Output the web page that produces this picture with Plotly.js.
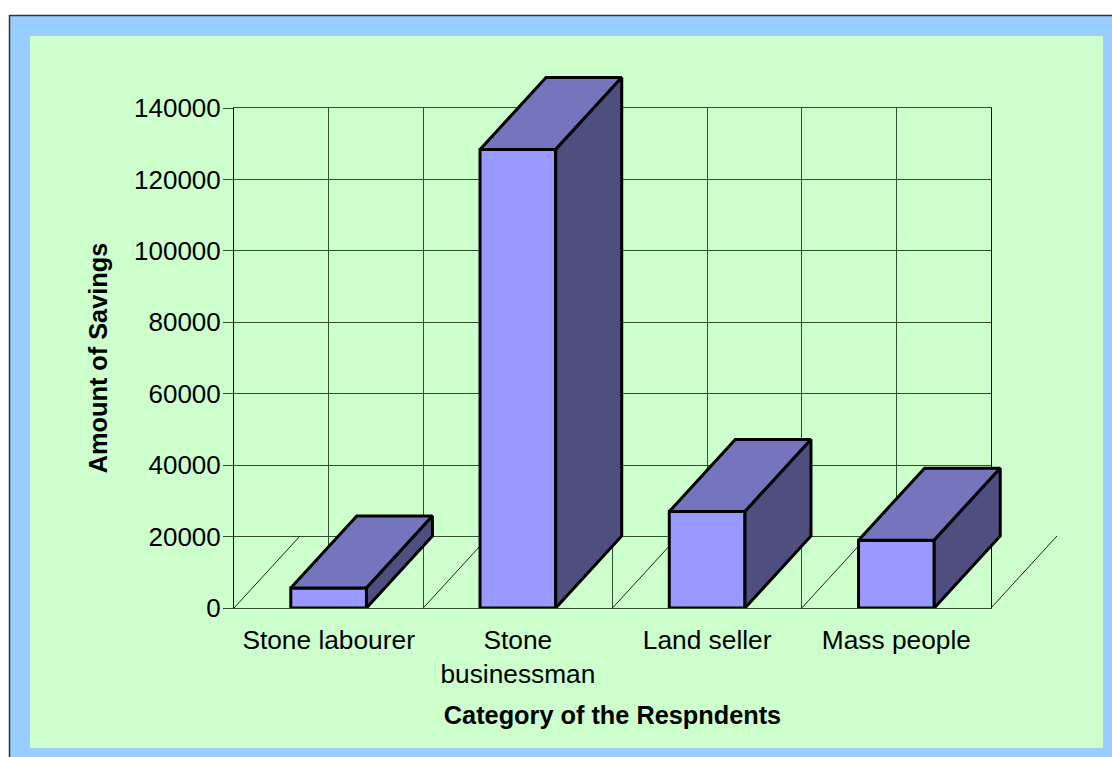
<!DOCTYPE html>
<html>
<head>
<meta charset="utf-8">
<script src="https://cdn.plot.ly/plotly-3.0.0.min.js"></script>
<style>html,body{margin:0;padding:0;background:#fff;overflow:hidden}#chart{width:1112px;height:757px}</style>
</head>
<body>
<div id="chart"></div>
<script>
const categories = ["Stone labourer", "Stone<br>businessman", "Land seller", "Mass people"];
const savings = [5600, 128400, 27000, 19000];
const yTicks = [0, 20000, 40000, 60000, 80000, 100000, 120000, 140000];
const xTitle = "Category of the Respndents";
const yTitle = "Amount of Savings";

const W = 1112, H = 757;
const axisBox = {l: 234, r: 991, t: 108, b: 608};   // the value axes
const outerBox = {l: 234, r: 1064, t: 66, b: 608};  // room for the 3D depth
const xRange = [0.5, 4.5], yRange = [0, 140000];
const xPerPx = (xRange[1] - xRange[0]) / (axisBox.r - axisBox.l);
const yPerPx = (yRange[1] - yRange[0]) / (axisBox.b - axisBox.t);
const xRange2 = [xRange[0], xRange[0] + (outerBox.r - outerBox.l) * xPerPx];
const yRange2 = [yRange[0], yRange[0] + (outerBox.b - outerBox.t) * yPerPx];
const depthX = 66 * xPerPx;
const depthY = 72 * yPerPx;
const halfBar = 0.2;
const font = "Liberation Sans, Arial, sans-serif";
const gridColor = "#2f4f2f";

const px = v => (v - outerBox.l) / (outerBox.r - outerBox.l);
const py = v => (outerBox.b - v) / (outerBox.b - outerBox.t);

const traces = [];
// empty trace so the primary axes exist
traces.push({x: [1], y: [0], mode: "markers", marker: {opacity: 0}, xaxis: "x", yaxis: "y",
  hoverinfo: "skip", showlegend: false});
// floor diagonals
for (let i = 0; i <= categories.length; i++) {
  const x0 = xRange[0] + i;
  traces.push({x: [x0, x0 + depthX], y: [0, depthY], mode: "lines", xaxis: "x2", yaxis: "y2",
    line: {color: "#222", width: 1}, hoverinfo: "skip", showlegend: false});
}
function face(xs, ys, color) {
  traces.push({x: xs, y: ys, mode: "lines", fill: "toself", fillcolor: color, xaxis: "x2", yaxis: "y2",
    line: {color: "#000", width: 3}, hoverinfo: "skip", showlegend: false});
}
savings.forEach((v, i) => {
  const c = i + 1, a = c - halfBar, b = c + halfBar;
  face([a, b, b, a, a], [0, 0, v, v, 0], "#9999FF");
  face([a, b, b + depthX, a + depthX, a], [v, v, v + depthY, v + depthY, v], "#7575BD");
  face([b, b + depthX, b + depthX, b, b], [0, depthY, v + depthY, v, 0], "#4E4E7F");
});

const xTickVals = [], xTickText = [];
categories.forEach((name, i) => {
  xTickVals.push(i + 0.5, i + 1);
  xTickText.push("", name);
});
xTickVals.push(categories.length + 0.5);
xTickText.push("");

const hidden = {visible: false, fixedrange: true};
const layout = {
  width: W, height: H,
  margin: {l: outerBox.l, r: W - outerBox.r, t: outerBox.t, b: H - outerBox.b, pad: 0},
  paper_bgcolor: "#fff", plot_bgcolor: "rgba(0,0,0,0)",
  font: {family: font, color: "#000", size: 26},
  showlegend: false,
  xaxis: {
    domain: [0, px(axisBox.r)], anchor: "y",
    range: xRange, tickmode: "array", tickvals: xTickVals, ticktext: xTickText,
    ticks: "outside", ticklen: 8, tickcolor: "rgba(0,0,0,0)",
    showgrid: true, gridcolor: gridColor, gridwidth: 1, zeroline: false,
    showline: true, linecolor: gridColor, linewidth: 1, mirror: true,
    tickfont: {family: font, size: 26.3, color: "#000"},
    title: {text: xTitle, font: {family: font, size: 25.3, color: "#000", weight: "bold"}, standoff: 18},
    automargin: false, fixedrange: true
  },
  yaxis: {
    domain: [0, py(axisBox.t)], anchor: "x",
    range: yRange, tickmode: "array", tickvals: yTicks, ticktext: yTicks.map(String), ticks: "outside",
    ticklen: 10, tickcolor: gridColor, tickwidth: 1, ticklabelstandoff: -3,
    showgrid: true, gridcolor: gridColor, gridwidth: 1, zeroline: false,
    showline: true, linecolor: "#000", linewidth: 1, mirror: true,
    tickfont: {family: font, size: 26, color: "#000"},
    title: {text: yTitle, font: {family: font, size: 25.3, color: "#000", weight: "bold"}, standoff: 19},
    automargin: false, fixedrange: true
  },
  xaxis2: Object.assign({domain: [0, 1], range: xRange2, anchor: "y2"}, hidden),
  yaxis2: Object.assign({domain: [0, 1], range: yRange2, anchor: "x2"}, hidden),
  shapes: [
    {type: "rect", xref: "paper", yref: "paper", layer: "below",
     x0: px(9.5), x1: px(W + 5), y0: py(15.5), y1: py(H + 5),
     fillcolor: "#99CCFF", line: {color: "#333", width: 1.5}},
    {type: "rect", xref: "paper", yref: "paper", layer: "below",
     x0: px(30), x1: px(1103), y0: py(36), y1: py(748),
     fillcolor: "#CCFFCC", line: {width: 0}}
  ]
};
Plotly.newPlot("chart", traces, layout, {displayModeBar: false, staticPlot: true});
</script>
</body>
</html>
